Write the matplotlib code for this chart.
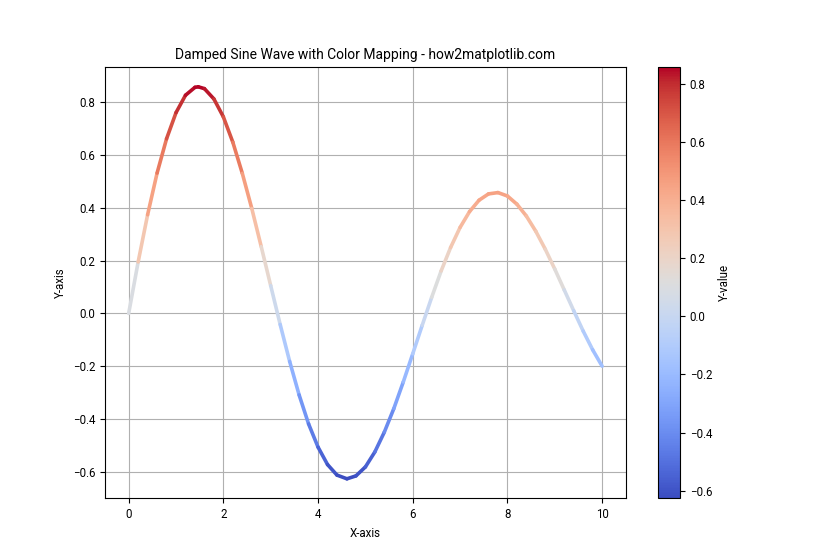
import numpy as np
import matplotlib
matplotlib.use("Agg")
import matplotlib.pyplot as plt
from matplotlib.collections import LineCollection

plt.rcParams['font.family'] = ['Roboto', 'DejaVu Sans']
plt.rcParams['font.size'] = 8.3

# values
x_vals = [0.0, 0.2, 0.4, 0.6, 0.8, 1.0, 1.2, 1.4, 1.47, 1.6, 1.8, 2.0, 2.2, 2.4, 2.6,
          2.8, 3.0, 3.2, 3.4, 3.6, 3.8, 4.0, 4.2, 4.4, 4.61, 4.8, 5.0, 5.2, 5.4,
          5.6, 5.8, 6.0, 6.2, 6.4, 6.6, 6.8, 7.0, 7.2, 7.4, 7.6, 7.8, 8.0, 8.2,
          8.4, 8.6, 8.8, 9.0, 9.2, 9.4, 9.6, 9.8, 10.0]
y_vals = [0.000, 0.195, 0.374, 0.532, 0.662, 0.761, 0.827, 0.857, 0.859, 0.852, 0.813,
          0.745, 0.649, 0.531, 0.398, 0.253, 0.105, -0.042, -0.182, -0.309, -0.419,
          -0.507, -0.573, -0.613, -0.627, -0.616, -0.582, -0.525, -0.450, -0.361,
          -0.260, -0.153, -0.045, 0.061, 0.161, 0.250, 0.326, 0.386, 0.429, 0.453,
          0.458, 0.445, 0.414, 0.369, 0.311, 0.243, 0.168, 0.089, 0.010, -0.067,
          -0.138, -0.200]

x = np.array(x_vals)
y = np.array(y_vals)

fig, ax = plt.subplots(figsize=(8.4, 5.6), dpi=100)

pts = np.column_stack([x, y]).reshape(-1, 1, 2)
segs = np.concatenate([pts[:-1], pts[1:]], axis=1)
norm = plt.Normalize(y.min(), y.max())
lc = LineCollection(segs, cmap='coolwarm', norm=norm, linewidth=2.6,
                    capstyle='round', joinstyle='round')
lc.set_array((y[:-1] + y[1:]) / 2)
ax.add_collection(lc)
ax.update_datalim(np.column_stack([x, y]))
ax.autoscale_view()

cbar = fig.colorbar(lc, ax=ax)
cbar.set_label('Y-value')

ax.set_title('Damped Sine Wave with Color Mapping - how2matplotlib.com')
ax.set_xlabel('X-axis')
ax.set_ylabel('Y-axis')
ax.grid(True)

fig.savefig('out.png')
